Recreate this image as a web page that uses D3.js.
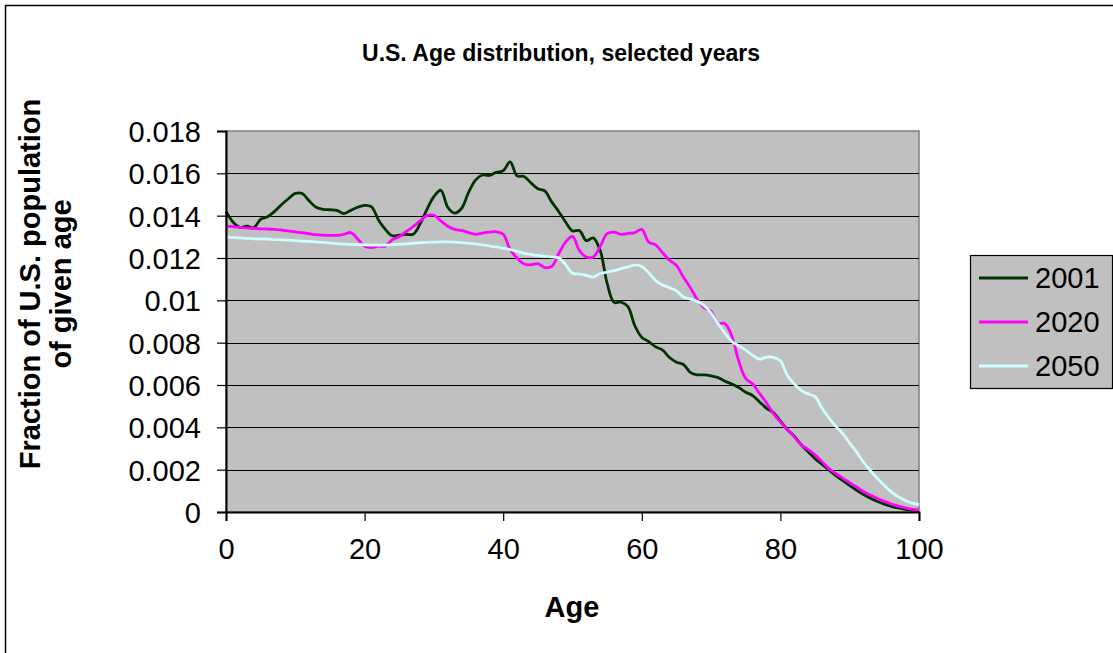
<!DOCTYPE html>
<html>
<head>
<meta charset="utf-8">
<script src="https://cdn.jsdelivr.net/npm/d3@7"></script>
<style>
  body { margin: 0; background: #fff; }
  svg text { font-family: "Liberation Sans", Arial, sans-serif; fill: #000; }
</style>
</head>
<body>
<svg id="vis"></svg>
<script>
// Data: fraction of population by single year of age
var ages = d3.range(0, 101);

var pop2001 = [
	0.0142, 0.0137, 0.01345, 0.0135, 0.01343, 0.01383, 0.01395, 0.0142, 0.01452, 0.0148,
	0.01505, 0.01505, 0.0147, 0.0144, 0.0143, 0.01428, 0.01425, 0.0141, 0.01425, 0.0144,
	0.01449, 0.01442, 0.0138, 0.01335, 0.01305, 0.01308, 0.01312, 0.01312, 0.0136, 0.0143,
	0.0149, 0.0152, 0.0144, 0.01412, 0.01435, 0.0151, 0.01568, 0.01592, 0.0159, 0.01605,
	0.01612, 0.01654, 0.01588, 0.01585, 0.01555, 0.01527, 0.01517, 0.01465, 0.0142, 0.0137,
	0.01328, 0.0133, 0.01282, 0.01295, 0.01235, 0.0108, 0.0099, 0.00992, 0.0097, 0.0088,
	0.00825, 0.00805, 0.0078, 0.00765, 0.0073, 0.00708, 0.00697, 0.0066, 0.00648, 0.00648,
	0.00643, 0.00635, 0.00618, 0.00605, 0.00588, 0.00566, 0.0055, 0.0052, 0.0049, 0.0047,
	0.0043, 0.0039, 0.00358, 0.00318, 0.00285, 0.00252, 0.00225, 0.00198, 0.00172, 0.00148,
	0.00125, 0.00103, 0.00083, 0.00065, 0.0005, 0.00037, 0.00027, 0.00019, 0.00013, 0.00009,
	0.00007
];

var pop2020 = [
	0.01351, 0.01348, 0.01345, 0.01342, 0.0134, 0.01338, 0.01337, 0.01335, 0.01332, 0.01328,
	0.01323, 0.0132, 0.01315, 0.0131, 0.01308, 0.01307, 0.01307, 0.01312, 0.0132, 0.0129,
	0.01255, 0.01249, 0.01256, 0.01256, 0.01287, 0.013, 0.01325, 0.01348, 0.01375, 0.014,
	0.01402, 0.01375, 0.0135, 0.01335, 0.0133, 0.0132, 0.01312, 0.01318, 0.01322, 0.01324,
	0.01312, 0.0124, 0.012, 0.01172, 0.01168, 0.01173, 0.01155, 0.0116, 0.0122, 0.01275,
	0.01302, 0.01235, 0.01205, 0.01205, 0.01255, 0.01315, 0.01322, 0.01312, 0.01316, 0.0132,
	0.01335, 0.01275, 0.01262, 0.01225, 0.0119, 0.01165, 0.0111, 0.0106, 0.01005, 0.00965,
	0.00948, 0.00893, 0.0089, 0.0083, 0.00712, 0.0063, 0.00605, 0.0056, 0.00515, 0.00465,
	0.00425, 0.0039, 0.00355, 0.00318, 0.00295, 0.0027, 0.00238, 0.00205, 0.00182, 0.0016,
	0.00138, 0.00118, 0.00096, 0.0008, 0.00064, 0.0005, 0.00038, 0.00028, 0.0002, 0.00014,
	0.0001
];

var pop2050 = [
	0.013, 0.01297, 0.01295, 0.01293, 0.01291, 0.0129, 0.01289, 0.01287, 0.01286, 0.01284,
	0.01282, 0.0128, 0.01278, 0.01276, 0.01274, 0.01271, 0.01268, 0.01266, 0.01264, 0.01263,
	0.01262, 0.01261, 0.01261, 0.01261, 0.01263, 0.01265, 0.01267, 0.0127, 0.01272, 0.01274,
	0.01275, 0.01276, 0.01276, 0.01275, 0.01273, 0.0127, 0.01267, 0.01262, 0.01257, 0.01252,
	0.01246, 0.0124, 0.01232, 0.01222, 0.01217, 0.01212, 0.01208, 0.01205, 0.01201, 0.01168,
	0.01128, 0.01124, 0.01118, 0.0111, 0.01127, 0.01133, 0.0114, 0.0115, 0.01158, 0.01166,
	0.0116, 0.0113, 0.01093, 0.01072, 0.0106, 0.01045, 0.01016, 0.01005, 0.00995, 0.00975,
	0.0094, 0.0089, 0.00845, 0.00805, 0.00785, 0.00765, 0.0074, 0.00722, 0.00732, 0.0073,
	0.00715, 0.00645, 0.00605, 0.00575, 0.00558, 0.00545, 0.0049, 0.00445, 0.00405, 0.0037,
	0.00325, 0.00283, 0.00235, 0.00195, 0.00158, 0.00125, 0.00095, 0.00072, 0.00055, 0.00042,
	0.00036
];

var seriesNames = ["2001", "2020", "2050"];
var xTicks = [0, 20, 40, 60, 80, 100];
var yTicks = [0, 0.002, 0.004, 0.006, 0.008, 0.01, 0.012, 0.014, 0.016, 0.018];

var colors = {"2001": "#003300", "2020": "#ff00ff", "2050": "#ccffff"};

var svgW = 1113, svgH = 653;
var plot = {left: 226, top: 131, right: 919, bottom: 512};

var svg = d3.select("svg#vis")
	.attr("width", svgW)
	.attr("height", svgH);

// outer chart frame (cut off at right and bottom in the original)
svg.append("rect")
	.attr("x", 5.5).attr("y", 5.5)
	.attr("width", svgW + 20).attr("height", svgH + 20)
	.attr("fill", "#fff")
	.attr("stroke", "#000")
	.attr("stroke-width", 1.5);

var xScale = d3.scaleLinear().domain([0, 100]).range([plot.left, plot.right]);
var yScale = d3.scaleLinear().domain([0, 0.018]).range([plot.bottom, plot.top]);

// plot background
svg.append("rect")
	.attr("x", plot.left).attr("y", plot.top)
	.attr("width", plot.right - plot.left)
	.attr("height", plot.bottom - plot.top)
	.attr("fill", "#c0c0c0")
	.attr("stroke", "#808080")
	.attr("stroke-width", 1.5);

// gridlines
svg.append("g")
	.selectAll("line")
	.data(yTicks.filter(function(d) {return d > 0 && d < 0.018}))
	.enter().append("line")
	.attr("x1", plot.left).attr("x2", plot.right)
	.attr("y1", function(d) {return Math.round(yScale(d)) + 0.5})
	.attr("y2", function(d) {return Math.round(yScale(d)) + 0.5})
	.attr("stroke", "#000")
	.attr("stroke-width", 1);

// series
var series = [
	{name: "2001", values: pop2001},
	{name: "2020", values: pop2020},
	{name: "2050", values: pop2050}
];

var line = d3.line()
	.x(function(d, i) {return xScale(ages[i])})
	.y(function(d) {return yScale(d)})
	.curve(d3.curveCatmullRom.alpha(0.5));

svg.append("g")
	.selectAll("path")
	.data(series)
	.enter().append("path")
	.attr("d", function(d) {return line(d.values)})
	.attr("fill", "none")
	.attr("stroke", function(d) {return colors[d.name]})
	.attr("stroke-width", 2.8)
	.attr("stroke-linejoin", "round");

// axes
var yAxis = svg.append("g")
	.attr("transform", "translate(" + plot.left + ",0)")
	.call(d3.axisLeft(yScale).tickValues(yTicks).tickSize(9).tickPadding(16)
		.tickFormat(function(d) {return d === 0 ? "0" : String(+d.toFixed(3))}));

var xAxis = svg.append("g")
	.attr("transform", "translate(0," + plot.bottom + ")")
	.call(d3.axisBottom(xScale).tickValues(xTicks).tickSize(9).tickPadding(16)
		.tickFormat(d3.format("d")));

[xAxis, yAxis].forEach(function(ax) {
	ax.select(".domain").attr("stroke", "#000").attr("stroke-width", 2);
	ax.selectAll(".tick line").attr("stroke", "#000").attr("stroke-width", 1.2);
	ax.selectAll(".tick text")
		.style("font-family", "'Liberation Sans', Arial, sans-serif")
		.style("font-size", "29px")
		.attr("fill", "#000");
});
yAxis.selectAll(".tick text").attr("dy", "0.36em");
xAxis.selectAll(".tick text").attr("dy", "0.75em");

// titles
svg.append("text")
	.text("U.S. Age distribution, selected years")
	.attr("x", 561).attr("y", 61)
	.style("text-anchor", "middle")
	.style("font-size", "23px")
	.style("font-weight", "bold");

svg.append("text")
	.text("Age")
	.attr("x", 572).attr("y", 617)
	.style("text-anchor", "middle")
	.style("font-size", "29px")
	.style("font-weight", "bold");

var yTitle = svg.append("text")
	.attr("transform", "translate(40, 284) rotate(-90)")
	.style("text-anchor", "middle")
	.style("font-size", "29px")
	.style("font-weight", "bold");
yTitle.append("tspan").attr("x", 0).attr("y", 0).text("Fraction of U.S. population");
yTitle.append("tspan").attr("x", 0).attr("y", 31).text("of given age");

// legend
var legend = svg.append("g").attr("transform", "translate(970, 255)");
legend.append("rect")
	.attr("x", 0.5).attr("y", 0.5)
	.attr("width", 142).attr("height", 133)
	.attr("fill", "#c0c0c0")
	.attr("stroke", "#000")
	.attr("stroke-width", 1.2);

var items = legend.selectAll("g.item").data(seriesNames)
	.enter().append("g")
	.attr("class", "item")
	.attr("transform", function(d, i) {return "translate(0," + (23 + i * 44) + ")"});

items.append("line")
	.attr("x1", 9).attr("x2", 58)
	.attr("stroke", function(d) {return colors[d]})
	.attr("stroke-width", 2.8);

items.append("text")
	.text(function(d) {return d})
	.attr("x", 65).attr("y", 10)
	.style("font-size", "29px");
</script>
</body>
</html>
